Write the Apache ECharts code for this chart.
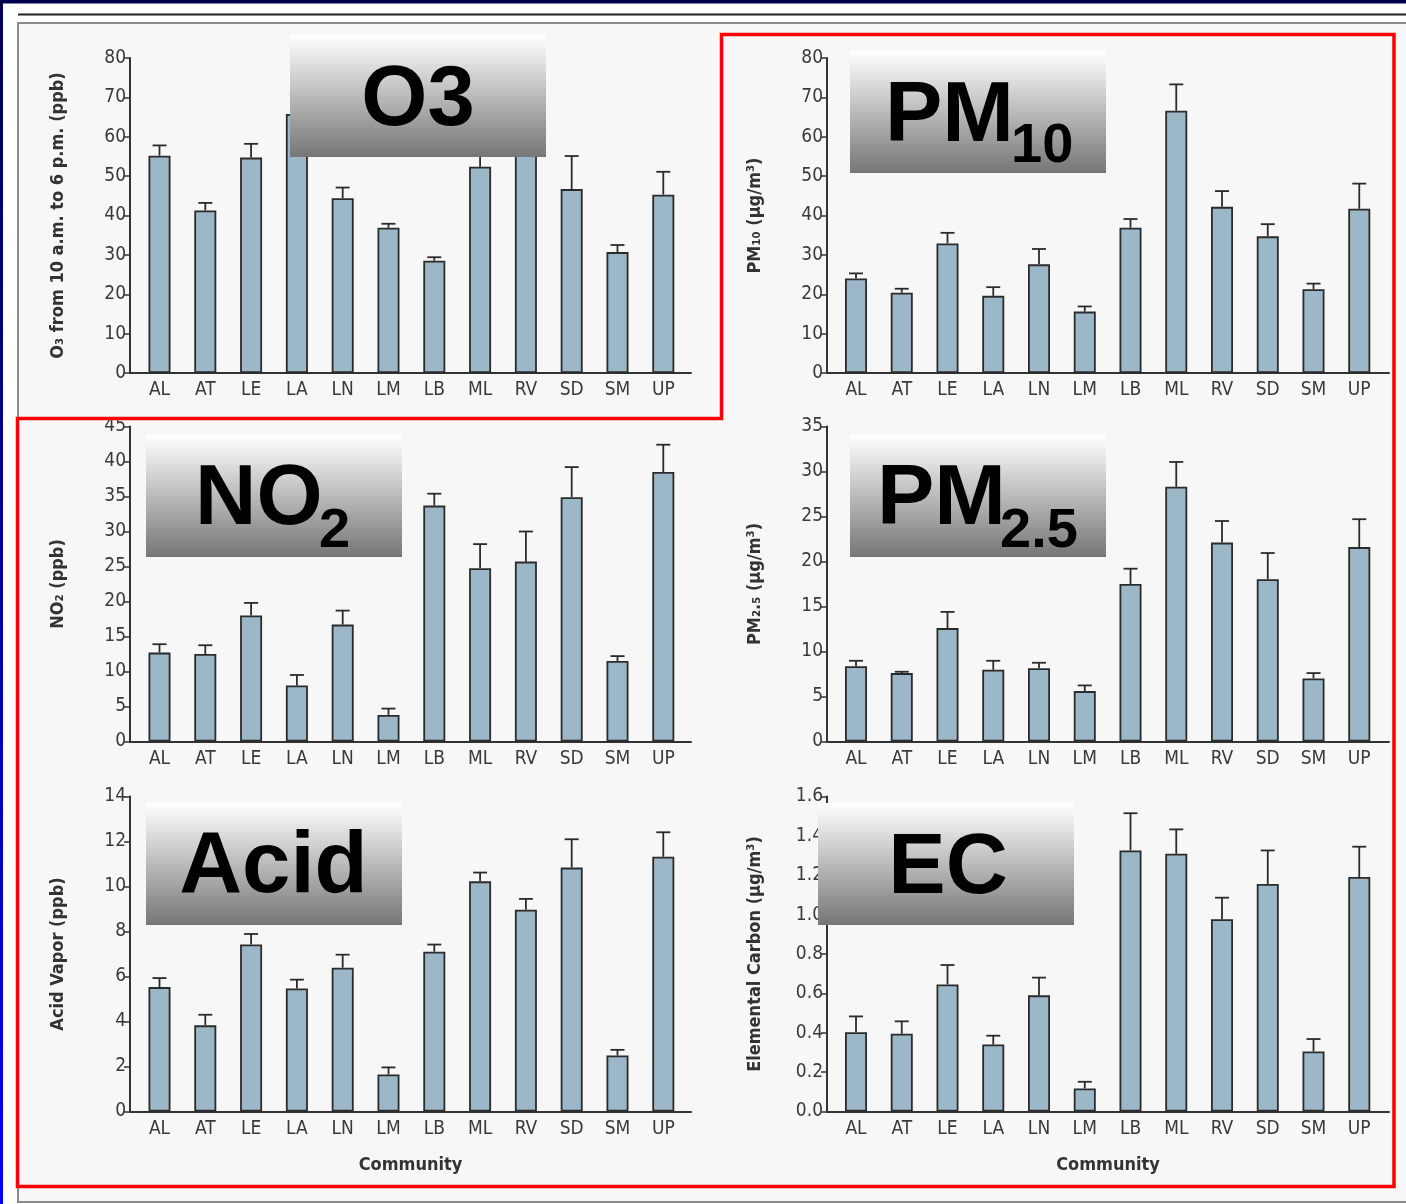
<!DOCTYPE html>
<html>
<head>
<meta charset="utf-8">
<script src="https://cdn.jsdelivr.net/npm/echarts@6/dist/echarts.min.js"></script>
<style>
html,body{margin:0;padding:0;background:#fff;}
#c{width:1406px;height:1204px;}
</style>
</head>
<body>
<div id="c"></div>
<script>
// ---------- data ----------
const communities = ['AL','AT','LE','LA','LN','LM','LB','ML','RV','SD','SM','UP'];

const o3Mean   = [55.2, 41.3, 54.7, 65.8, 44.4, 36.9, 28.5, 52.4, 60.5, 46.7, 30.7, 45.3];
const o3Err    = [2.6, 1.9, 3.5, 5.3, 2.7, 1.0, 0.9, 4.6, 5.0, 8.4, 1.8, 5.8];

const pm10Mean = [24.0, 20.4, 32.9, 19.6, 27.6, 15.6, 36.9, 66.6, 42.2, 34.7, 21.3, 41.7];
const pm10Err  = [1.3, 1.0, 2.7, 2.2, 3.9, 1.3, 2.2, 6.7, 4.0, 3.1, 1.4, 6.4];

const no2Mean  = [12.7, 12.5, 18.0, 8.0, 16.7, 3.8, 33.7, 24.75, 25.7, 34.9, 11.5, 38.5];
const no2Err   = [1.2, 1.25, 1.8, 1.5, 2.0, 0.9, 1.7, 3.45, 4.3, 4.3, 0.7, 3.9];

const pm25Mean = [8.37, 7.6, 12.6, 7.97, 8.15, 5.6, 17.5, 28.3, 22.1, 18.04, 7.0, 21.6];
const pm25Err  = [0.6, 0.15, 1.8, 1.0, 0.6, 0.63, 1.7, 2.76, 2.4, 2.9, 0.6, 3.1];

const acidMean = [5.53, 3.83, 7.42, 5.47, 6.39, 1.65, 7.1, 10.23, 8.97, 10.84, 2.49, 11.32];
const acidErr  = [0.4, 0.47, 0.47, 0.39, 0.58, 0.31, 0.32, 0.39, 0.48, 1.26, 0.25, 1.09];

const ecMean   = [0.403, 0.395, 0.645, 0.34, 0.59, 0.117, 1.326, 1.309, 0.977, 1.156, 0.305, 1.191];
const ecErr    = [0.08, 0.063, 0.099, 0.045, 0.09, 0.034, 0.189, 0.124, 0.109, 0.17, 0.063, 0.154];

const yTitles = ['O\u2083 from 10 a.m. to 6 p.m. (ppb)', 'PM\u2081\u2080 (\u03bcg/m\u00b3)',
                 'NO\u2082 (ppb)', 'PM\u2082.\u2085 (\u03bcg/m\u00b3)',
                 'Acid Vapor (ppb)', 'Elemental Carbon (\u03bcg/m\u00b3)'];
const yMax      = [80, 80, 45, 35, 14, 1.6];
const yInterval = [10, 10, 5, 5, 2, 0.2];
const xTitle = 'Community';

// ---------- layout ----------
const panels = [
  {mean:o3Mean,   err:o3Err},
  {mean:pm10Mean, err:pm10Err},
  {mean:no2Mean,  err:no2Err},
  {mean:pm25Mean, err:pm25Err},
  {mean:acidMean, err:acidErr},
  {mean:ecMean,   err:ecErr}
];
const colLeft = [130, 827], colWidth = [561, 562];
const xMin = [-0.644, -0.634], xMax = [11.605, 11.65];
const rowTop = [58, 426.5, 796.5], rowH = 315;

const FONT = "'DejaVu Sans Condensed','Liberation Sans Narrow','Liberation Sans',sans-serif";
const BIG = "'Liberation Sans',Arial,sans-serif";

const grids = [], xAxes = [], yAxes = [], series = [];
panels.forEach((p, i) => {
  const col = i % 2, row = Math.floor(i / 2);
  grids.push({left: colLeft[col], top: rowTop[row], width: colWidth[col], height: rowH, containLabel: false});
  xAxes.push({
    type: 'value', gridIndex: i, min: xMin[col], max: xMax[col],
    axisLine: {show: true, onZero: false, lineStyle: {color: '#333', width: 2}},
    axisTick: {show: false}, splitLine: {show: false},
    axisLabel: {customValues: communities.map((c, j) => j), formatter: v => communities[Math.round(v)],
                color: '#3a3a3a', fontSize: 19, fontFamily: FONT, margin: 8},
    name: row === 2 ? xTitle : '', nameLocation: 'middle', nameGap: 45,
    nameTextStyle: {color: '#333', fontSize: 18, fontWeight: 'bold', fontFamily: FONT}
  });
  yAxes.push({
    type: 'value', gridIndex: i, min: 0, max: yMax[i], interval: yInterval[i],
    axisLine: {show: true, onZero: false, lineStyle: {color: '#333', width: 2}},
    axisTick: {show: true, length: 6, lineStyle: {color: '#333', width: 1.5}},
    splitLine: {show: false},
    axisLabel: {color: '#3a3a3a', fontSize: 19, fontFamily: FONT, margin: 4,
                formatter: yInterval[i] < 1 ? (v => v.toFixed(1)) : (v => String(v))},
    name: yTitles[i], nameLocation: 'middle', nameGap: 63,
    nameTextStyle: {color: '#333', fontSize: 18, fontWeight: 'bold', fontFamily: FONT}
  });
  series.push({
    type: 'bar', xAxisIndex: i, yAxisIndex: i, barWidth: 22, z: 2,
    data: communities.map((c, j) => [j, p.mean[j]]),
    itemStyle: {color: '#9cb7c8', borderColor: '#2b2b2b', borderWidth: 1.8},
    emphasis: {disabled: true}, silent: true, animation: false
  });
  series.push({
    type: 'custom', xAxisIndex: i, yAxisIndex: i, z: 3, silent: true, animation: false,
    data: communities.map((c, j) => [j, p.mean[j], p.err[j]]),
    encode: {x: 0, y: 1},
    renderItem: (params, api) => {
      const x = api.value(0), v = api.value(1), e = api.value(2);
      const b = api.coord([x, v]), t = api.coord([x, v + e]);
      const st = {stroke: '#2b2b2b', lineWidth: 1.8};
      return {type: 'group', children: [
        {type: 'line', shape: {x1: b[0], y1: b[1], x2: t[0], y2: t[1]}, style: st},
        {type: 'line', shape: {x1: t[0] - 7, y1: t[1], x2: t[0] + 7, y2: t[1]}, style: st}
      ]};
    }
  });
});

// ---------- decorations ----------
const grad = {type: 'linear', x: 0, y: 0, x2: 0, y2: 1,
  colorStops: [{offset: 0, color: '#ffffff'}, {offset: 1, color: '#767676'}]};
const shadow = {textShadowColor: '#b0b0b0', textShadowOffsetX: 4, textShadowOffsetY: 4, textShadowBlur: 0};
function bigText(text, x, y, fs, align) {
  return {type: 'text', z: 101, x: x, y: y,
    style: Object.assign({text: text, fill: '#000', font: 'bold ' + fs + 'px ' + BIG,
      align: align || 'left', verticalAlign: 'middle'}, shadow)};
}
function box(x, y, w, h) {
  return {type: 'rect', z: 100, shape: {x: x, y: y, width: w, height: h}, style: {fill: grad}};
}

const graphics = [
  // page background / frame
  {type: 'rect', z: -10, shape: {x: 18, y: 23, width: 1388, height: 1179}, style: {fill: '#f7f7f7'}},
  {type: 'rect', z: -9, shape: {x: 0, y: 0, width: 1406, height: 3.5}, style: {fill: '#000050'}},
  {type: 'rect', z: -9, shape: {x: 0, y: 0, width: 3, height: 1204},
    style: {fill: {type: 'linear', x: 0, y: 0, x2: 0, y2: 1, colorStops: [{offset: 0, color: '#000050'}, {offset: 0.45, color: '#0000a0'}, {offset: 1, color: '#0000ff'}]}}},
  {type: 'line', z: -9, shape: {x1: 18, y1: 14.5, x2: 1406, y2: 14.5}, style: {stroke: '#222', lineWidth: 2}},
  {type: 'polyline', z: -9, shape: {points: [[1406, 23], [18, 23], [18, 1202], [1406, 1202]]}, style: {stroke: '#8a8a8a', lineWidth: 2, fill: null}},
  // red outline
  {type: 'polygon', z: 99, shape: {points: [[721.5, 34.5], [1394, 34.5], [1394, 1186.5], [17.5, 1186.5], [17.5, 418.5], [721.5, 418.5]]},
    style: {stroke: '#ff0000', lineWidth: 3.5, fill: null}},
  // label boxes
  box(290, 35, 256, 122), bigText('O3', 418, 102, 85, 'center'),
  box(850, 51, 256, 122), bigText('PM', 885, 117, 86), bigText('10', 1011, 147, 56),
  box(146, 435, 256, 122), bigText('NO', 195, 500.5, 85), bigText('2', 319, 531.5, 56),
  box(850, 435, 256, 122), bigText('PM', 877, 500, 86), bigText('2.5', 1000, 531.5, 56),
  box(146, 803, 256, 122), bigText('Acid', 273.5, 868.5, 87, 'center'),
  box(818, 803, 256, 122), bigText('EC', 948, 869, 86, 'center')
];

const chart = echarts.init(document.getElementById('c'), null, {renderer: 'canvas'});
chart.setOption({
  backgroundColor: '#ffffff',
  animation: false,
  grid: grids, xAxis: xAxes, yAxis: yAxes, series: series,
  graphic: {elements: graphics}
});
</script>
</body>
</html>
